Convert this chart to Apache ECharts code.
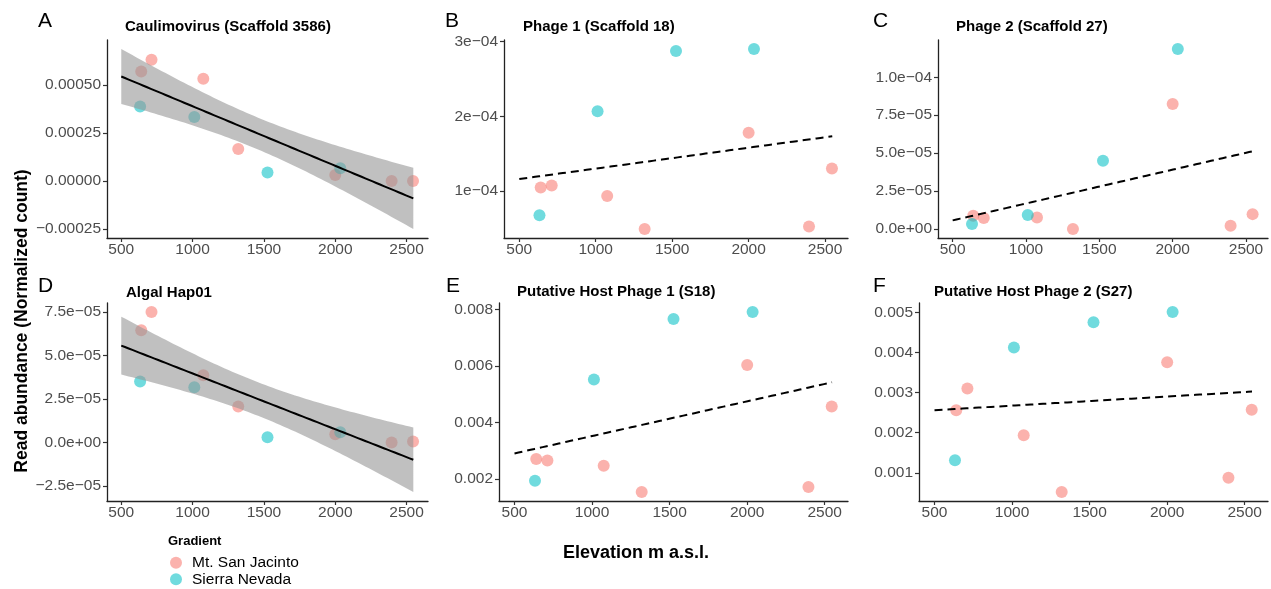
<!DOCTYPE html>
<html><head><meta charset="utf-8">
<script src="https://cdn.jsdelivr.net/npm/echarts@6/dist/echarts.min.js"></script>
<style>html,body{margin:0;padding:0;background:#fff}#c{width:1271px;height:589px}</style>
</head><body><div id="c"></div>
<script>
// ---------- data ----------
const elevMSJ = [640, 712, 1075, 1320, 2000, 2395, 2545];   // Mt. San Jacinto sites
const elevSN  = [632, 1012, 1525, 2035];                     // Sierra Nevada sites
const xTicks = [500, 1000, 1500, 2000, 2500];
const fitRange = [500, 2547];

const titles  = ['Caulimovirus (Scaffold 3586)', 'Phage 1 (Scaffold 18)', 'Phage 2 (Scaffold 27)',
                 'Algal Hap01', 'Putative Host Phage 1 (S18)', 'Putative Host Phage 2 (S27)'];
const letters = ['A', 'B', 'C', 'D', 'E', 'F'];
const withCI  = [true, false, false, true, false, false];

const aMSJ = [0.000571, 0.000632, 0.000533, 0.000167, 0.000031, 0.0, 0.0];
const aSN  = [0.000388, 0.000333, 0.000044, 0.000066];
const aTicks = [-0.00025, 0, 0.00025, 0.0005];
const aLabels = ['\u22120.00025', '0.00000', '0.00025', '0.00050'];

const bMSJ = [1.045e-4, 1.071e-4, 0.929e-4, 0.487e-4, 1.777e-4, 0.522e-4, 1.299e-4];
const bSN  = [0.670e-4, 2.067e-4, 2.875e-4, 2.902e-4];
const bTicks = [1e-4, 2e-4, 3e-4];
const bLabels = ['1e\u221204', '2e\u221204', '3e\u221204'];

const cMSJ = [8.7e-6, 7.2e-6, 7.6e-6, 0, 82.3e-6, 2.2e-6, 9.8e-6];
const cSN  = [3.3e-6, 9.2e-6, 45.0e-6, 118.6e-6];
const cTicks = [0, 2.5e-5, 5e-5, 7.5e-5, 1e-4];
const cLabels = ['0.0e+00', '2.5e\u221205', '5.0e\u221205', '7.5e\u221205', '1.0e\u221204'];

const dMSJ = [64.6e-6, 75.1e-6, 38.7e-6, 20.7e-6, 4.8e-6, 0, 0.6e-6];
const dSN  = [35.1e-6, 31.8e-6, 3.1e-6, 5.9e-6];
const dTicks = [-2.5e-5, 0, 2.5e-5, 5e-5, 7.5e-5];
const dLabels = ['\u22122.5e\u221205', '0.0e+00', '2.5e\u221205', '5.0e\u221205', '7.5e\u221205'];

const eMSJ = [0.002706, 0.002659, 0.002471, 0.001541, 0.006035, 0.001718, 0.004565];
const eSN  = [0.00194, 0.005518, 0.007659, 0.007906];
const eTicks = [0.002, 0.004, 0.006, 0.008];
const eLabels = ['0.002', '0.004', '0.006', '0.008'];

const fMSJ = [0.00256, 0.003108, 0.001938, 0.000519, 0.003763, 0.000876, 0.002577];
const fSN  = [0.001315, 0.004129, 0.004759, 0.005017];
const fTicks = [0.001, 0.002, 0.003, 0.004, 0.005];
const fLabels = ['0.001', '0.002', '0.003', '0.004', '0.005'];

// ---------- layout / style ----------
const FONT = '"Liberation Sans", Arial, Helvetica, sans-serif';
const RED = 'rgba(248,118,109,0.7)';
const CYAN = 'rgba(0,191,196,0.7)';
const grids = [
  {left: 107, top: 40,  width: 321, height: 198},
  {left: 504, top: 40,  width: 344, height: 198},
  {left: 938, top: 40,  width: 330, height: 198},
  {left: 107, top: 303, width: 321, height: 198},
  {left: 499, top: 303, width: 349, height: 198},
  {left: 919, top: 303, width: 349, height: 198}
];
const titlePos  = [[125, 27], [523, 27], [956, 27], [126, 292.5], [517, 291.5], [934, 291.5]];
const letterPos = [[38, 21], [445, 21], [873, 21], [38, 286], [446, 286.5], [873, 286]];

const panels = [
  {msj: aMSJ, sn: aSN, ticks: aTicks, labels: aLabels},
  {msj: bMSJ, sn: bSN, ticks: bTicks, labels: bLabels},
  {msj: cMSJ, sn: cSN, ticks: cTicks, labels: cLabels},
  {msj: dMSJ, sn: dSN, ticks: dTicks, labels: dLabels},
  {msj: eMSJ, sn: eSN, ticks: eTicks, labels: eLabels},
  {msj: fMSJ, sn: fSN, ticks: fTicks, labels: fLabels}
];

// linear model + 95% confidence band (like geom_smooth(method = "lm"))
function lmFit(xs, ys, ci) {
  const n = xs.length;
  const mx = xs.reduce((s, v) => s + v, 0) / n;
  const my = ys.reduce((s, v) => s + v, 0) / n;
  let sxx = 0, sxy = 0;
  for (let i = 0; i < n; i++) { sxx += (xs[i] - mx) ** 2; sxy += (xs[i] - mx) * (ys[i] - my); }
  const b = sxy / sxx, a = my - b * mx;
  let sse = 0;
  for (let i = 0; i < n; i++) sse += (ys[i] - a - b * xs[i]) ** 2;
  const s = Math.sqrt(sse / (n - 2));
  const t = 2.262157; // qt(0.975, 9)
  const line = [], lo = [], hi = [];
  const N = 80;
  for (let k = 0; k < N; k++) {
    const x = fitRange[0] + (fitRange[1] - fitRange[0]) * k / (N - 1);
    const y = a + b * x;
    line.push([x, y]);
    if (ci) {
      const h = t * s * Math.sqrt(1 / n + (x - mx) ** 2 / sxx);
      lo.push([x, y - h]); hi.push([x, y + h]);
    }
  }
  return {line, lo, hi};
}

const option = {
  animation: false,
  backgroundColor: '#fff',
  grid: [], xAxis: [], yAxis: [], series: [], graphic: [],
  legend: {
    data: ['Mt. San Jacinto', 'Sierra Nevada'],
    orient: 'vertical', left: 170, top: 554.7, height: 34, padding: 0,
    itemWidth: 12, itemHeight: 12, itemGap: 0.6, icon: 'circle',
    selectedMode: false,
    textStyle: {fontFamily: FONT, fontSize: 15.5, color: '#000', lineHeight: 16, padding: [0, 0, 0, 5]}
  }
};

panels.forEach((p, i) => {
  const xs = elevMSJ.concat(elevSN);
  const ys = p.msj.concat(p.sn);
  const f = lmFit(xs, ys, withCI[i]);
  let vals = ys.concat(f.line.map(d => d[1]));
  if (withCI[i]) vals = vals.concat(f.lo.map(d => d[1]), f.hi.map(d => d[1]));
  const vmin = Math.min(...vals), vmax = Math.max(...vals);
  const pad = (vmax - vmin) * 0.05;
  const xmin = 400, xmax = 2650;

  option.grid.push(Object.assign({containLabel: false}, grids[i]));
  const axisTickStyle = {lineStyle: {color: '#333', width: 1.2}};
  option.xAxis.push({
    type: 'value', gridIndex: i, min: xmin, max: xmax,
    axisLine: {show: true, onZero: false, lineStyle: {color: '#222', width: 1.3}},
    splitLine: {show: false},
    axisTick: Object.assign({show: true, length: 4, customValues: xTicks}, axisTickStyle),
    axisLabel: {customValues: xTicks, fontFamily: FONT, fontSize: 15.5, color: '#4D4D4D', margin: 4,
                formatter: v => String(v)}
  });
  option.yAxis.push({
    type: 'value', gridIndex: i, min: vmin - pad, max: vmax + pad,
    axisLine: {show: true, onZero: false, lineStyle: {color: '#222', width: 1.3}},
    splitLine: {show: false},
    axisTick: Object.assign({show: true, length: 4, customValues: p.ticks}, axisTickStyle),
    axisLabel: {customValues: p.ticks, fontFamily: FONT, fontSize: 15.5, color: '#4D4D4D', margin: 6,
                formatter: v => {
                  const k = p.ticks.findIndex(t => Math.abs(t - v) <= Math.abs(t) * 1e-9 + 1e-15);
                  return k >= 0 ? p.labels[k] : '';
                }}
  });

  option.series.push({
    type: 'scatter', name: 'Mt. San Jacinto', xAxisIndex: i, yAxisIndex: i, z: 2,
    symbolSize: 12, itemStyle: {color: RED}, silent: true,
    data: elevMSJ.map((x, k) => [x, p.msj[k]])
  });
  option.series.push({
    type: 'scatter', name: 'Sierra Nevada', xAxisIndex: i, yAxisIndex: i, z: 2,
    symbolSize: 12, itemStyle: {color: CYAN}, silent: true,
    data: elevSN.map((x, k) => [x, p.sn[k]])
  });
  if (withCI[i]) {
    const hi = f.hi, lo = f.lo;
    option.series.push({
      type: 'custom', xAxisIndex: i, yAxisIndex: i, z: 3, silent: true,
      data: [[fitRange[0], f.line[0][1]]],
      encode: {x: 0, y: 1},
      renderItem: (params, api) => {
        const pts = hi.map(d => api.coord(d)).concat(lo.slice().reverse().map(d => api.coord(d)));
        return {type: 'polygon', shape: {points: pts}, style: {fill: 'rgba(150,150,150,0.6)'}};
      }
    });
  }
  option.series.push({
    type: 'line', xAxisIndex: i, yAxisIndex: i, z: 4, silent: true,
    showSymbol: false, symbol: 'none',
    lineStyle: {color: '#000', width: 2, type: withCI[i] ? 'solid' : [8, 5]},
    data: f.line
  });

  option.graphic.push({
    type: 'text', x: titlePos[i][0], y: titlePos[i][1], silent: true,
    style: {text: titles[i], font: 'bold 15px ' + FONT, fill: '#000', align: 'left', verticalAlign: 'middle'}
  });
  option.graphic.push({
    type: 'text', x: letterPos[i][0], y: letterPos[i][1], silent: true,
    style: {text: letters[i], font: '21px ' + FONT, fill: '#000', align: 'left', verticalAlign: 'middle'}
  });
});

option.graphic.push({
  type: 'text', x: 22, y: 321, rotation: Math.PI / 2, silent: true,
  style: {text: 'Read abundance (Normalized count)', font: 'bold 17.5px ' + FONT, fill: '#000',
          align: 'center', verticalAlign: 'middle'}
});
option.graphic.push({
  type: 'text', x: 636, y: 553, silent: true,
  style: {text: 'Elevation m a.s.l.', font: 'bold 18px ' + FONT, fill: '#000', align: 'center', verticalAlign: 'middle'}
});
option.graphic.push({
  type: 'text', x: 168, y: 541.5, silent: true,
  style: {text: 'Gradient', font: 'bold 13px ' + FONT, fill: '#000', align: 'left', verticalAlign: 'middle'}
});

const chart = echarts.init(document.getElementById('c'), null, {renderer: 'canvas'});
chart.setOption(option);
</script>
</body></html>
